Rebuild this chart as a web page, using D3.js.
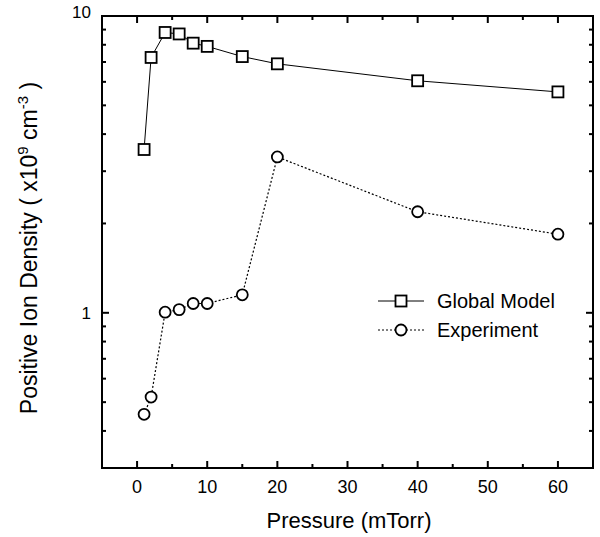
<!DOCTYPE html>
<html>
<head>
<meta charset="utf-8">
<script src="https://cdn.jsdelivr.net/npm/d3@7"></script>
<style>
  body { margin: 0; background: #fff; }
  text { font-family: "Liberation Sans", Arial, sans-serif; fill: #000; }
</style>
</head>
<body>
<div id="chart"></div>
<script>
var width = 600;
var height = 537;

// pressure (mTorr)
var modelPressure = [1, 2, 4, 6, 8, 10, 15, 20, 40, 60];
var modelDensity  = [3.55, 7.25, 8.8, 8.7, 8.1, 7.9, 7.3, 6.9, 6.05, 5.55];

var expPressure = [1, 2, 4, 6, 8, 10, 15, 20, 40, 60];
var expDensity  = [0.455, 0.52, 1.005, 1.025, 1.075, 1.075, 1.15, 3.35, 2.19, 1.84];

var xTicks = [0, 10, 20, 30, 40, 50, 60];
var xMinor = [-5, 5, 15, 25, 35, 45, 55, 65];
var yTicks = [1, 10];
var yMinor = [0.3, 0.4, 0.5, 0.6, 0.7, 0.8, 0.9, 2, 3, 4, 5, 6, 7, 8, 9];

var legendNames = ["Global Model", "Experiment"];

var margin = {top: 16, right: 7, bottom: 69, left: 102};

var svg = d3.select("#chart").append("svg")
  .attr("width", width)
  .attr("height", height);

var xScale = d3.scaleLinear().domain([-5, 65]).range([margin.left, width - margin.right]);
var yScale = d3.scaleLog().domain([0.3, 10]).range([height - margin.bottom, margin.top]);

var x0 = margin.left, x1 = width - margin.right;
var y0 = height - margin.bottom, y1 = margin.top;

// frame
svg.append("rect")
  .attr("x", x0).attr("y", y1)
  .attr("width", x1 - x0).attr("height", y0 - y1)
  .attr("fill", "none").attr("stroke", "#000").attr("stroke-width", 2);

// ticks (inward, on all four sides)
function tickLines(values, len, horizontal) {
  values.forEach(function(v) {
    if (horizontal) {
      var px = xScale(v);
      svg.append("line").attr("x1", px).attr("x2", px).attr("y1", y0).attr("y2", y0 - len)
        .attr("stroke", "#000").attr("stroke-width", 2);
      svg.append("line").attr("x1", px).attr("x2", px).attr("y1", y1).attr("y2", y1 + len)
        .attr("stroke", "#000").attr("stroke-width", 2);
    } else {
      var py = yScale(v);
      svg.append("line").attr("x1", x0).attr("x2", x0 + len).attr("y1", py).attr("y2", py)
        .attr("stroke", "#000").attr("stroke-width", 2);
      svg.append("line").attr("x1", x1).attr("x2", x1 - len).attr("y1", py).attr("y2", py)
        .attr("stroke", "#000").attr("stroke-width", 2);
    }
  });
}
tickLines(xTicks, 7, true);
tickLines(xMinor, 4, true);
tickLines(yTicks, 7, false);
tickLines(yMinor, 4, false);

// tick labels
svg.selectAll(".xlab")
  .data(xTicks)
  .enter().append("text")
  .attr("x", function(d) { return xScale(d); })
  .attr("y", y0 + 25)
  .attr("text-anchor", "middle")
  .style("font-size", "18px")
  .text(function(d) { return d; });

svg.selectAll(".ylab")
  .data(yTicks)
  .enter().append("text")
  .attr("x", x0 - 11)
  .attr("y", function(d) { return yScale(d) + (d == 10 ? 2 : 6); })
  .attr("text-anchor", "end")
  .style("font-size", "17px")
  .text(function(d) { return d; });

// axis titles
svg.append("text")
  .attr("x", 349)
  .attr("y", 528)
  .attr("text-anchor", "middle")
  .style("font-size", "22px")
  .text("Pressure (mTorr)");

var yt = svg.append("text")
  .attr("transform", "translate(37,248) rotate(-90)")
  .attr("text-anchor", "middle")
  .style("font-size", "23px");
yt.append("tspan").text("Positive Ion Density ( x10");
yt.append("tspan").attr("dy", -9).style("font-size", "15px").text("9");
yt.append("tspan").attr("dy", 9).text(" cm");
yt.append("tspan").attr("dy", -9).style("font-size", "15px").text("-3");
yt.append("tspan").attr("dy", 9).text(" )");

// series
var line = d3.line()
  .x(function(d) { return xScale(d[0]); })
  .y(function(d) { return yScale(d[1]); });

var modelData = modelPressure.map(function(p, i) { return [p, modelDensity[i]]; });
var expData = expPressure.map(function(p, i) { return [p, expDensity[i]]; });

svg.append("path")
  .datum(modelData)
  .attr("d", line)
  .attr("fill", "none").attr("stroke", "#000").attr("stroke-width", 1);

svg.append("path")
  .datum(expData)
  .attr("d", line)
  .attr("fill", "none").attr("stroke", "#000").attr("stroke-width", 1.2)
  .attr("stroke-dasharray", "2,2");

var sq = 11;
svg.selectAll(".sq")
  .data(modelData)
  .enter().append("rect")
  .attr("x", function(d) { return xScale(d[0]) - sq / 2; })
  .attr("y", function(d) { return yScale(d[1]) - sq / 2; })
  .attr("width", sq).attr("height", sq)
  .attr("fill", "#fff").attr("stroke", "#000").attr("stroke-width", 1.8);

svg.selectAll(".circ")
  .data(expData)
  .enter().append("circle")
  .attr("cx", function(d) { return xScale(d[0]); })
  .attr("cy", function(d) { return yScale(d[1]); })
  .attr("r", 5.5)
  .attr("fill", "#fff").attr("stroke", "#000").attr("stroke-width", 1.8);

// legend
var lg = svg.append("g").attr("transform", "translate(378,301)");
legendNames.forEach(function(name, i) {
  var gy = i * 29;
  lg.append("line").attr("x1", 0).attr("x2", 46).attr("y1", gy).attr("y2", gy)
    .attr("stroke", "#000").attr("stroke-width", 1)
    .attr("stroke-dasharray", i == 0 ? null : "2,2");
  if (i == 0) {
    lg.append("rect").attr("x", 23 - sq / 2).attr("y", gy - sq / 2)
      .attr("width", sq).attr("height", sq)
      .attr("fill", "#fff").attr("stroke", "#000").attr("stroke-width", 1.8);
  } else {
    lg.append("circle").attr("cx", 23).attr("cy", gy).attr("r", 5.5)
      .attr("fill", "#fff").attr("stroke", "#000").attr("stroke-width", 1.8);
  }
  lg.append("text").attr("x", 59).attr("y", gy + 7)
    .style("font-size", "20px")
    .text(name);
});
</script>
</body>
</html>
